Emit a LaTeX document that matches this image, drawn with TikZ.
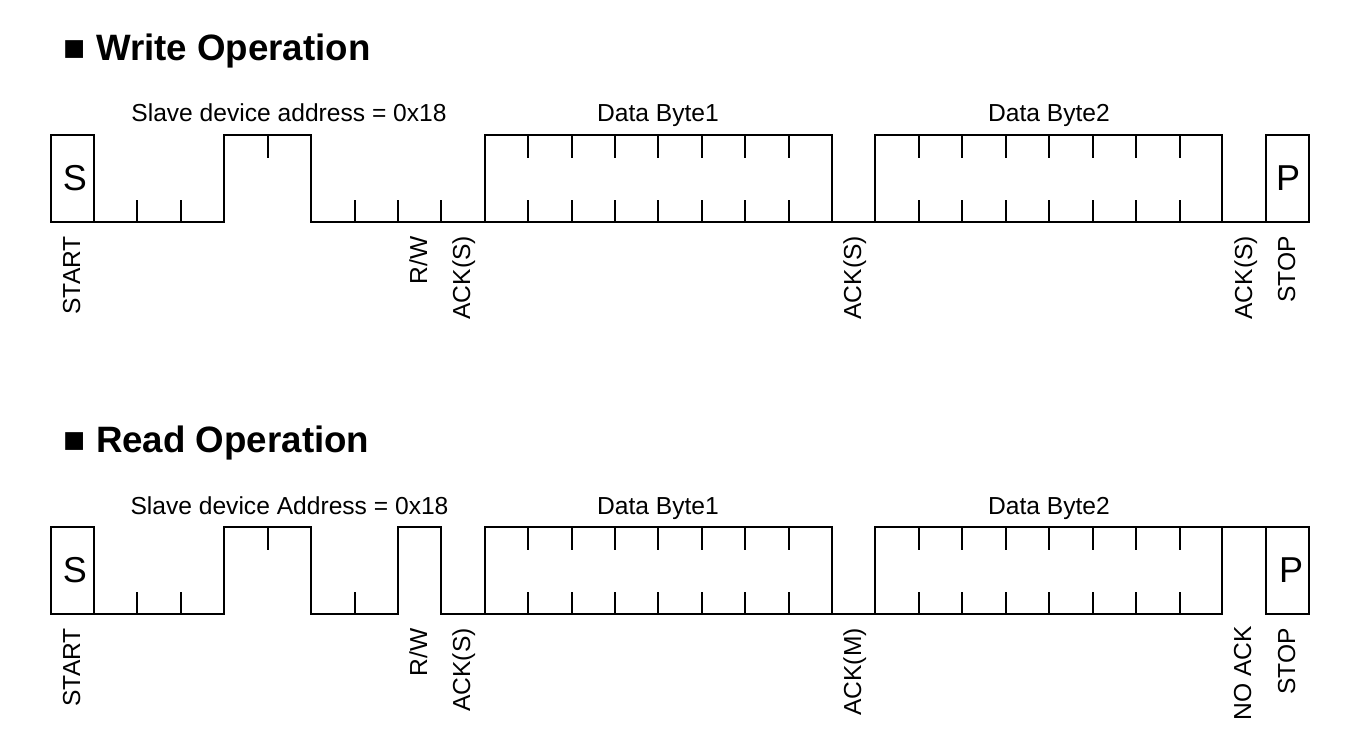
\documentclass[tikz,border=0pt]{standalone}
\usepackage{fontspec}
\setmainfont{Liberation Sans}
\tikzset{
  wave/.style={draw=black,line width=1.6pt,line cap=rect,line join=miter},
  tick/.style={draw=black,line width=1.3pt},
  title/.style={anchor=base west,inner sep=0pt,font=\bfseries\fontsize{36.7}{38}\selectfont},
  lbl/.style={inner sep=0pt,anchor=base,font=\fontsize{24.6}{26}\selectfont},
  vlbl/.style={inner sep=0pt,rotate=90,anchor=base east,font=\fontsize{24.6}{26}\selectfont},
  big/.style={inner sep=0pt,anchor=base,font=\fontsize{36}{38}\selectfont}
}
\begin{document}
\begin{tikzpicture}[x=1pt,y=-1pt]
\useasboundingbox (0,0) rectangle (1354,746);
\fill[white] (0,0) rectangle (1354,746);
% ---- title
\node[title] (t1) at (63.5,60.5) {■ Write Operation};
\node[title] (t2) at (63.5,452) {■ Read Operation};
% ---- Write waveform
\node[lbl] (wa) at (289,122) {Slave device address = 0x18};
\node[lbl] (wb) at (658,122) {Data Byte1};
\node[lbl] (wc) at (1049,122) {Data Byte2};
\node[big] (ws) at (75,190) {S};
\node[big] (wp) at (1288,190) {P};
\draw[wave] (51,135) rectangle (94,222);
\draw[wave] (1266,135) rectangle (1309,222);
\draw[wave] (94,222) -- (224,222) -- (224,135) -- (311,135) -- (311,222) -- (485,222)
            -- (485,135) -- (832,135) -- (832,222) -- (875,222) -- (875,135) -- (1222,135) -- (1222,222) -- (1266,222);
\draw[wave] (485,222) -- (832,222) (875,222) -- (1222,222);
\foreach \x in {137,181,355,398,441}{\draw[tick] (\x,222) -- (\x,200);}
\draw[tick] (268,135) -- (268,158);
\foreach \x in {528,572,615,658,702,745,789,919,962,1006,1049,1093,1136,1180}{
  \draw[tick] (\x,135) -- (\x,158);
  \draw[tick] (\x,222) -- (\x,200);}
\node[vlbl] (w1) at (80,236) {START};
\node[vlbl] (w2) at (427,236) {R/W};
\node[vlbl] (w3) at (470,236) {ACK(S)};
\node[vlbl] (w4) at (861,236) {ACK(S)};
\node[vlbl] (w5) at (1252,236) {ACK(S)};
\node[vlbl] (w6) at (1295,236) {STOP};
% ---- Read waveform
\node[lbl] (ra) at (289.5,514) {Slave device Address = 0x18};
\node[lbl] (rb) at (658,514) {Data Byte1};
\node[lbl] (rc) at (1049,514) {Data Byte2};
\node[big] (rs) at (75,582) {S};
\node[big] (rp) at (1291,582) {P};
\draw[wave] (51,527) rectangle (94,614);
\draw[wave] (1266,527) rectangle (1309,614);
\draw[wave] (94,614) -- (224,614) -- (224,527) -- (311,527) -- (311,614) -- (398,614) -- (398,527) -- (441,527) -- (441,614) -- (485,614)
            -- (485,527) -- (832,527) -- (832,614) -- (875,614) -- (875,527) -- (1266,527);
\draw[wave] (485,614) -- (832,614) (875,614) -- (1222,614) -- (1222,527);
\foreach \x in {137,181,355}{\draw[tick] (\x,614) -- (\x,592);}
\draw[tick] (268,527) -- (268,550);
\foreach \x in {528,572,615,658,702,745,789,919,962,1006,1049,1093,1136,1180}{
  \draw[tick] (\x,527) -- (\x,550);
  \draw[tick] (\x,614) -- (\x,592);}
\node[vlbl] (r1) at (80,628) {START};
\node[vlbl] (r2) at (427,628) {R/W};
\node[vlbl] (r3) at (470,628) {ACK(S)};
\node[vlbl] (r4) at (861,628) {ACK(M)};
\node[vlbl] (r5) at (1251,626) {NO ACK};
\node[vlbl] (r6) at (1295,628) {STOP};
\end{tikzpicture}
\end{document}
